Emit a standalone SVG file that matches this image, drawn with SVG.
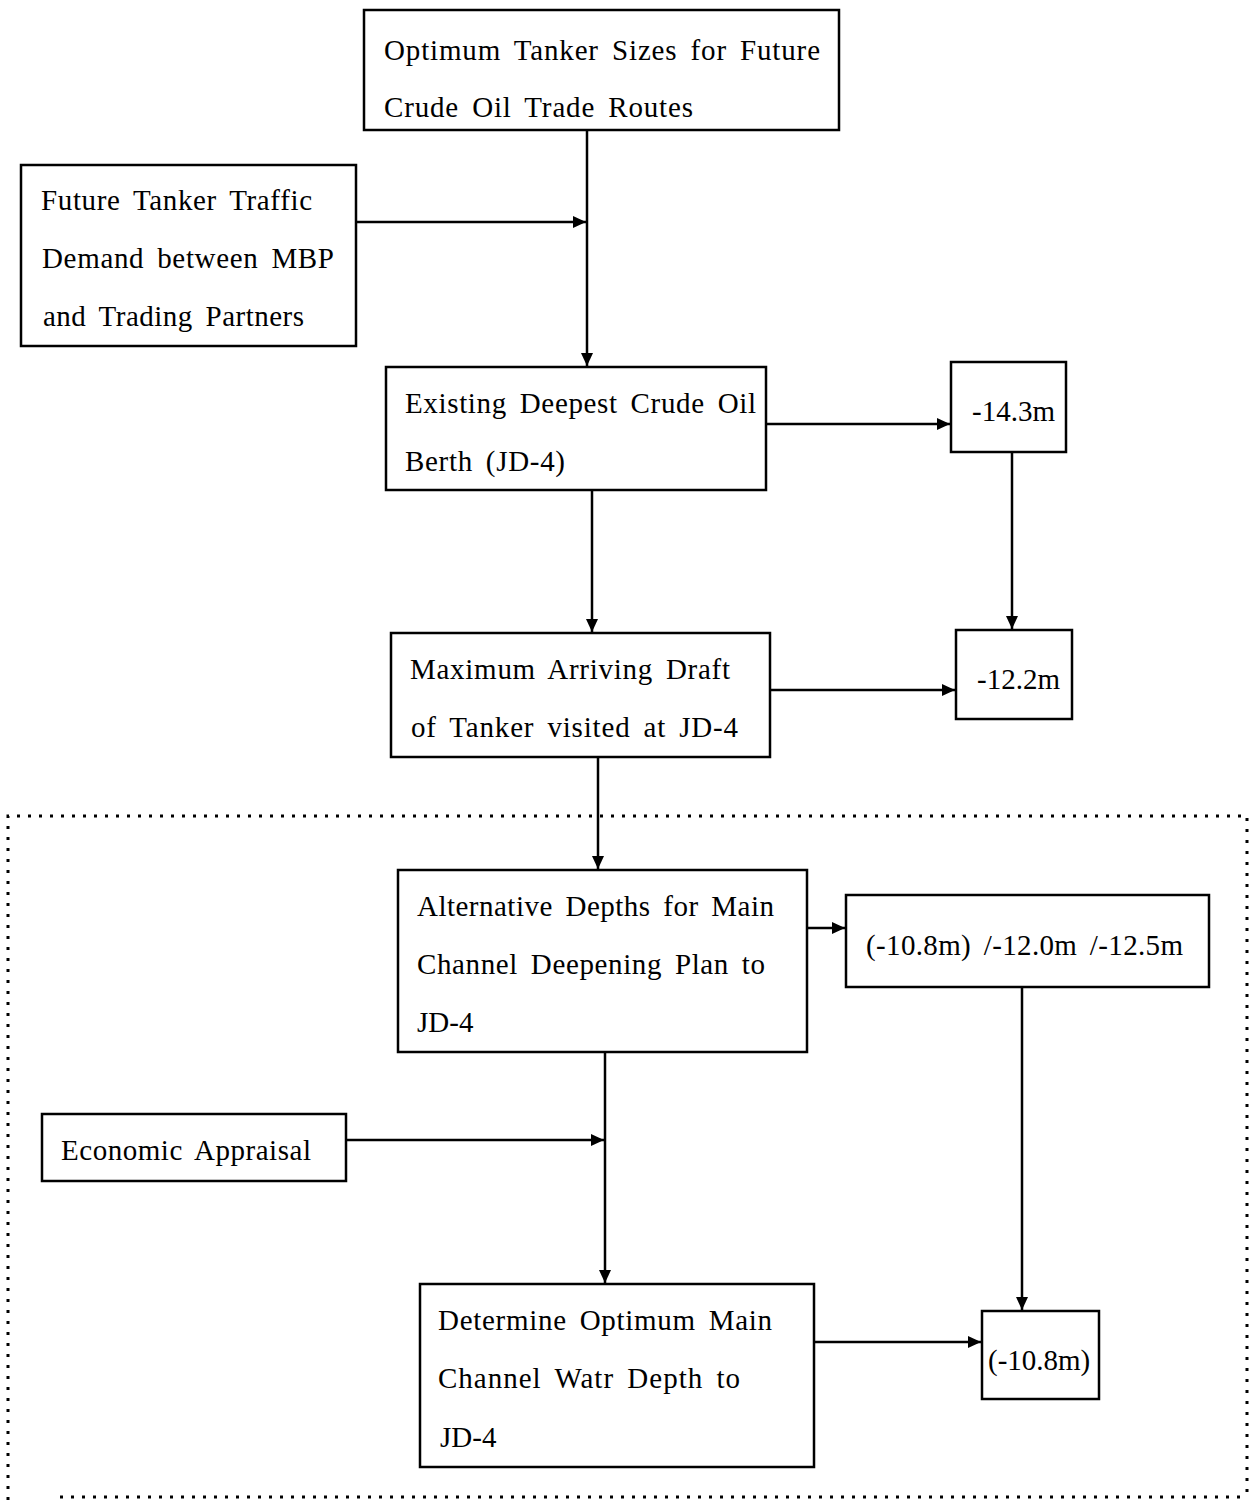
<svg xmlns="http://www.w3.org/2000/svg" width="1253" height="1500" viewBox="0 0 1253 1500">
<style>
.box{fill:#fff;stroke:#000;stroke-width:2.5}
.t{font-family:"Liberation Serif","Times New Roman",serif;font-size:29px;fill:#000;word-spacing:5px}
.c{fill:none;stroke:#000;stroke-width:2.5}
.dot{fill:none;stroke:#000;stroke-width:3;stroke-dasharray:3 8}
</style>
<defs>
<marker id="ah" markerUnits="userSpaceOnUse" markerWidth="14" markerHeight="12" refX="13" refY="6" orient="auto">
<path d="M0,0 L13,6 L0,12 Z" fill="#000"/>
</marker>
</defs>
<rect width="1253" height="1500" fill="#fff"/>
<g id="frame">
<path class="dot" d="M8,1500 L8,816 L1247,816 L1247,1497"/>
<path class="dot" d="M60,1497 L1247,1497"/>
</g>
<g id="connectors">
<path class="c" d="M587,130 L587,366" marker-end="url(#ah)"/>
<path class="c" d="M356,222 L586,222" marker-end="url(#ah)"/>
<path class="c" d="M766,424 L950,424" marker-end="url(#ah)"/>
<path class="c" d="M1012,452 L1012,629" marker-end="url(#ah)"/>
<path class="c" d="M592,490 L592,632" marker-end="url(#ah)"/>
<path class="c" d="M770,690 L955,690" marker-end="url(#ah)"/>
<path class="c" d="M598,757 L598,869" marker-end="url(#ah)"/>
<path class="c" d="M807,928 L845,928" marker-end="url(#ah)"/>
<path class="c" d="M1022,987 L1022,1310" marker-end="url(#ah)"/>
<path class="c" d="M605,1052 L605,1283" marker-end="url(#ah)"/>
<path class="c" d="M346,1140 L604,1140" marker-end="url(#ah)"/>
<path class="c" d="M814,1342 L981,1342" marker-end="url(#ah)"/>
</g>
<g id="n-optimum-tanker">
<rect class="box" x="364" y="10" width="475" height="120"/>
<text class="t" x="384" y="60" textLength="436" lengthAdjust="spacing">Optimum Tanker Sizes for Future</text>
<text class="t" x="384" y="117" textLength="309" lengthAdjust="spacing">Crude Oil Trade Routes</text>
</g>
<g id="n-future-traffic">
<rect class="box" x="21" y="165" width="335" height="181"/>
<text class="t" x="41" y="210" textLength="271" lengthAdjust="spacing">Future Tanker Traffic</text>
<text class="t" x="42" y="268" textLength="292" lengthAdjust="spacing">Demand between MBP</text>
<text class="t" x="43" y="326" textLength="261" lengthAdjust="spacing">and Trading Partners</text>
</g>
<g id="n-existing-berth">
<rect class="box" x="386" y="367" width="380" height="123"/>
<text class="t" x="405" y="413" textLength="351" lengthAdjust="spacing">Existing Deepest Crude Oil</text>
<text class="t" x="405" y="471" textLength="160" lengthAdjust="spacing">Berth (JD-4)</text>
</g>
<g id="n-14-3">
<rect class="box" x="951" y="362" width="115" height="90"/>
<text class="t" x="972" y="421">-14.3m</text>
</g>
<g id="n-max-draft">
<rect class="box" x="391" y="633" width="379" height="124"/>
<text class="t" x="410" y="679" textLength="320" lengthAdjust="spacing">Maximum Arriving Draft</text>
<text class="t" x="411" y="737" textLength="327" lengthAdjust="spacing">of Tanker visited at JD-4</text>
</g>
<g id="n-12-2">
<rect class="box" x="956" y="630" width="116" height="89"/>
<text class="t" x="977" y="689">-12.2m</text>
</g>
<g id="n-alt-depths">
<rect class="box" x="398" y="870" width="409" height="182"/>
<text class="t" x="417" y="916" textLength="357" lengthAdjust="spacing">Alternative Depths for Main</text>
<text class="t" x="417" y="974" textLength="348" lengthAdjust="spacing">Channel Deepening Plan to</text>
<text class="t" x="417" y="1032">JD-4</text>
</g>
<g id="n-depth-options">
<rect class="box" x="846" y="895" width="363" height="92"/>
<text class="t" x="866" y="955" textLength="317" lengthAdjust="spacing">(-10.8m) /-12.0m /-12.5m</text>
</g>
<g id="n-economic">
<rect class="box" x="42" y="1114" width="304" height="67"/>
<text class="t" x="61" y="1160" textLength="250" lengthAdjust="spacing">Economic Appraisal</text>
</g>
<g id="n-determine">
<rect class="box" x="420" y="1284" width="394" height="183"/>
<text class="t" x="438" y="1330" textLength="334" lengthAdjust="spacing">Determine Optimum Main</text>
<text class="t" x="438" y="1388" textLength="302" lengthAdjust="spacing">Channel Watr Depth to</text>
<text class="t" x="440" y="1447">JD-4</text>
</g>
<g id="n-10-8">
<rect class="box" x="982" y="1311" width="117" height="88"/>
<text class="t" x="988" y="1370">(-10.8m)</text>
</g>
</svg>
